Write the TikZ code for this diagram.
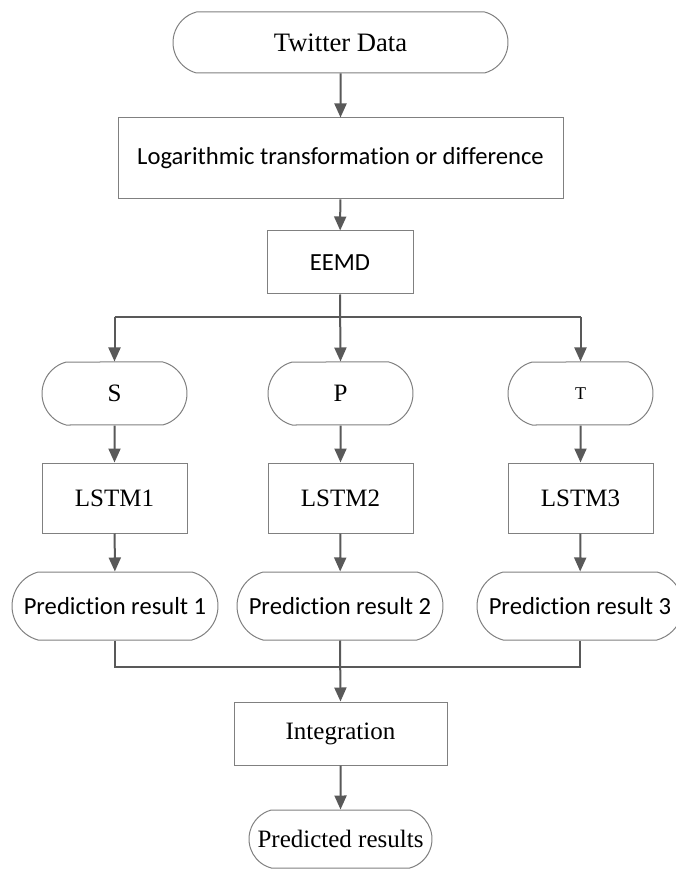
\documentclass[tikz,border=0pt]{standalone}
\usepackage{fontspec}
\setmainfont{Liberation Serif}
\newfontfamily\calfont[Ligatures=NoCommon]{Carlito}
\usetikzlibrary{arrows.meta,shapes.misc}

\begin{document}
\begin{tikzpicture}[x=0.5pt,y=-0.5pt,
  font=\fontsize{12.5pt}{15pt}\selectfont,
  block/.style={draw=black!50,line width=0.5pt,fill=white,inner sep=0pt,minimum height=#1},
  block/.default=31.5pt,
  pill/.style={block=#1,rounded rectangle,rounded rectangle arc length=150},
  pill/.default=31.5pt,
  cal/.style={font=\calfont\fontsize{12.3pt}{15pt}\selectfont},
  flow/.style={draw=black!65,line width=1pt,-{Triangle[length=7pt,width=6pt]}},
  wire/.style={draw=black!65,line width=1pt}]
\useasboundingbox (0,0) rectangle (675,870);

\node[pill=30.5pt,minimum width=167.5pt,font=\fontsize{13.3pt}{15pt}\selectfont] (twitter) at (340.5,42.5) {Twitter Data};
\node[block=40.5pt,minimum width=222.5pt,cal] (logtr) at (340.5,158.5) {Logarithmic transformation or difference};
\node[block,minimum width=73pt,cal] (eemd) at (340,262.5) {EEMD};

\node[pill,minimum width=72.5pt] (s) at (114.5,393.5) {S};
\node[pill,minimum width=72.5pt] (p) at (340.5,393.5) {P};
\node[pill,minimum width=72.5pt,font=\fontsize{9pt}{10pt}\selectfont] (t) at (580.5,393.5) {T};

\node[block=35pt,minimum width=72.5pt] (lstm1) at (114.5,498) {LSTM1};
\node[block=35pt,minimum width=72.5pt] (lstm2) at (340.5,498) {LSTM2};
\node[block=35pt,minimum width=72.5pt] (lstm3) at (580.5,498) {LSTM3};

\node[pill=34pt,minimum width=103pt,cal] (pred1) at (115,606) {Prediction result 1};
\node[pill=34pt,minimum width=103pt,cal] (pred2) at (340,606) {Prediction result 2};
\node[pill=34pt,minimum width=103pt,cal] (pred3) at (580,606) {Prediction result 3};

\node[block,minimum width=106.5pt] (integ) at (340.5,733.5) {Integration};
\node[pill=29pt,minimum width=91.5pt] (res) at (340.5,839) {Predicted results};

\coordinate (split) at (340.5,317.5);
\coordinate (join) at (340.5,667);

% top chain
\draw[flow] (twitter) -- (logtr);
\draw[flow] (logtr) -- (eemd);

% split into three branches
\draw[wire] (s |- split) -- (t |- split);
\draw[flow] (eemd.south) -- (p.north);
\draw[flow] (s |- split) -- (s.north);
\draw[flow] (t |- split) -- (t.north);

% each branch
\foreach \i/\c in {1/s,2/p,3/t}{
  \draw[flow] (\c) -- (lstm\i);
  \draw[flow] (lstm\i) -- (pred\i);
}

% merge
\draw[wire] (pred1.south) -- (pred1 |- join) -- (pred3 |- join) -- (pred3.south);
\draw[flow] (pred2.south) -- (integ.north);
\draw[flow] (integ) -- (res);
\end{tikzpicture}
\end{document}
